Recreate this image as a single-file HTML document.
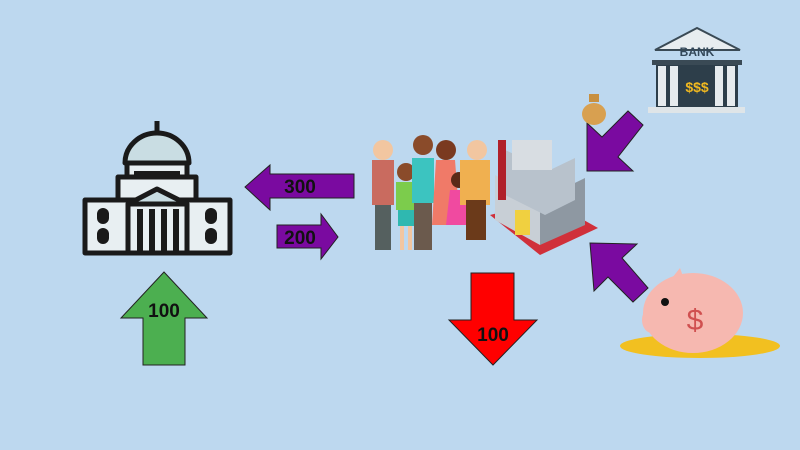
<!DOCTYPE html>
<html><head><meta charset="utf-8"><style>html,body{margin:0;padding:0;background:#bdd8ef}svg{display:block}</style></head><body>
<svg width="800" height="450" viewBox="0 0 800 450" xmlns="http://www.w3.org/2000/svg" font-family="Liberation Sans, sans-serif">
<rect width="800" height="450" fill="#bdd8ef"/>
<!-- Capitol -->
<g stroke="#1a1a1a" stroke-width="5" stroke-linejoin="round">
<line x1="157" y1="121" x2="157" y2="135"/>
<path d="M125 163 A32 30 0 0 1 189 163 Z" fill="#c9dde3"/>
<rect x="127" y="163" width="60" height="14" fill="#e8eff2"/>
<rect x="118" y="177" width="78" height="24" fill="#e8eff2"/>
<rect x="85" y="200" width="145" height="53" fill="#e8eff2"/>
<path d="M128 204 L157 189 L187 204 Z" fill="#c9dde3"/>
<rect x="128" y="204" width="59" height="49" fill="#e8eff2"/>
</g>
<g fill="#1a1a1a">
<rect x="134" y="171" width="46" height="4"/>
<rect x="137" y="209" width="6" height="44"/><rect x="149" y="209" width="6" height="44"/><rect x="161" y="209" width="6" height="44"/><rect x="173" y="209" width="6" height="44"/>
<rect x="97" y="208" width="12" height="16" rx="6"/><rect x="97" y="228" width="12" height="16" rx="6"/>
<rect x="205" y="208" width="12" height="16" rx="6"/><rect x="205" y="228" width="12" height="16" rx="6"/>
</g>
<!-- arrows -->
<g stroke="#222" stroke-width="1">
<path d="M143 365 L185 365 L185 318 L207 318 L164 272 L121 318 L143 318 Z" fill="#4caf50"/>
<path d="M471 273 L514 273 L514 320 L537 320 L493 365 L449 320 L471 320 Z" fill="#ff0000"/>
<path d="M354 174 L270 174 L270 165 L245 187 L270 210 L270 198 L354 198 Z" fill="#7a0aa0"/>
<path d="M277 225 L321 225 L321 214 L338 237 L321 259 L321 248 L277 248 Z" fill="#7a0aa0"/>
<path d="M643 125 L628 111 L602 137 L587 123 L587 171 L633 171 L618 157 Z" fill="#7a0aa0"/>
<path d="M648 288 L633 302 L608 277 L594 291 L590 243 L637 244 L622 258 Z" fill="#7a0aa0"/>
</g>
<g font-size="19" fill="#111" text-anchor="middle" font-weight="bold">
<text x="164" y="317">100</text>
<text x="493" y="341">100</text>
<text x="300" y="193">300</text>
<text x="300" y="244">200</text>
</g>
<!-- family -->
<g>
<rect x="372" y="160" width="22" height="45" fill="#c96b5f"/><rect x="375" y="205" width="16" height="45" fill="#55605f"/><circle cx="383" cy="150" r="10" fill="#f2c6a0"/>
<rect x="396" y="182" width="20" height="28" fill="#7ccc4c"/><rect x="398" y="210" width="16" height="16" fill="#2fb8b0"/><rect x="400" y="226" width="4" height="24" fill="#f2c6a0"/><rect x="408" y="226" width="4" height="24" fill="#f2c6a0"/><circle cx="406" cy="172" r="9" fill="#8a4b2a"/>
<rect x="412" y="158" width="22" height="45" fill="#3cc4c0"/><rect x="414" y="203" width="18" height="47" fill="#6b5a4d"/><circle cx="423" cy="145" r="10" fill="#8a4b2a"/>
<path d="M436 160 L455 160 L460 225 L432 225 Z" fill="#f07a68"/><circle cx="446" cy="150" r="10" fill="#7a3a20"/>
<path d="M450 190 L466 190 L472 225 L446 225 Z" fill="#f04aa0"/><circle cx="459" cy="180" r="8" fill="#5a2a18"/>
<rect x="460" y="160" width="30" height="45" fill="#f0b050"/><rect x="466" y="200" width="20" height="40" fill="#6b3a1a"/><circle cx="477" cy="150" r="10" fill="#f2c6a0"/>
</g>
<!-- factory -->
<g>
<path d="M490 215 L540 255 L598 228 L548 200 Z" fill="#d0303a"/>
<path d="M495 175 L540 200 L540 245 L495 220 Z" fill="#c8cfd6"/>
<path d="M540 200 L585 178 L585 225 L540 245 Z" fill="#8e98a2"/>
<path d="M505 150 L550 170 L575 158 L575 200 L545 215 L505 195 Z" fill="#b8c2cc"/>
<rect x="512" y="140" width="40" height="30" fill="#d8dde2"/>
<rect x="515" y="210" width="15" height="25" fill="#f0d040"/>
<rect x="498" y="140" width="8" height="60" fill="#b0202a"/>
</g>
<!-- bank -->
<g>
<path d="M655 50 L697 28 L740 50 Z" fill="#e8edf0" stroke="#3a4a55" stroke-width="2"/>
<text x="697" y="56" font-size="12" font-weight="bold" fill="#33485a" text-anchor="middle">BANK</text>
<rect x="652" y="60" width="90" height="5" fill="#3a4a55"/>
<rect x="656" y="65" width="82" height="42" fill="#2d3e4a"/>
<rect x="658" y="66" width="8" height="40" fill="#e6ebee"/><rect x="670" y="66" width="8" height="40" fill="#e6ebee"/><rect x="715" y="66" width="8" height="40" fill="#e6ebee"/><rect x="727" y="66" width="8" height="40" fill="#e6ebee"/>
<text x="697" y="92" font-size="14" font-weight="bold" fill="#f0b820" text-anchor="middle">$$$</text>
<rect x="648" y="107" width="97" height="6" fill="#dfe5e8"/>
</g>
<!-- money bag -->
<ellipse cx="594" cy="114" rx="12" ry="11" fill="#d8a050"/><rect x="589" y="94" width="10" height="8" fill="#c89040"/>
<!-- piggy -->
<g>
<ellipse cx="700" cy="346" rx="80" ry="12" fill="#f2c020"/>
<ellipse cx="693" cy="313" rx="50" ry="40" fill="#f6b8b0"/>
<ellipse cx="652" cy="320" rx="10" ry="13" fill="#f6b8b0"/>
<path d="M672 278 L680 268 L688 290 Z" fill="#f6b8b0"/>
<circle cx="665" cy="302" r="4" fill="#111"/>
<text x="695" y="330" font-size="30" fill="#d05050" text-anchor="middle">$</text>
</g>
</svg>
</body></html>
